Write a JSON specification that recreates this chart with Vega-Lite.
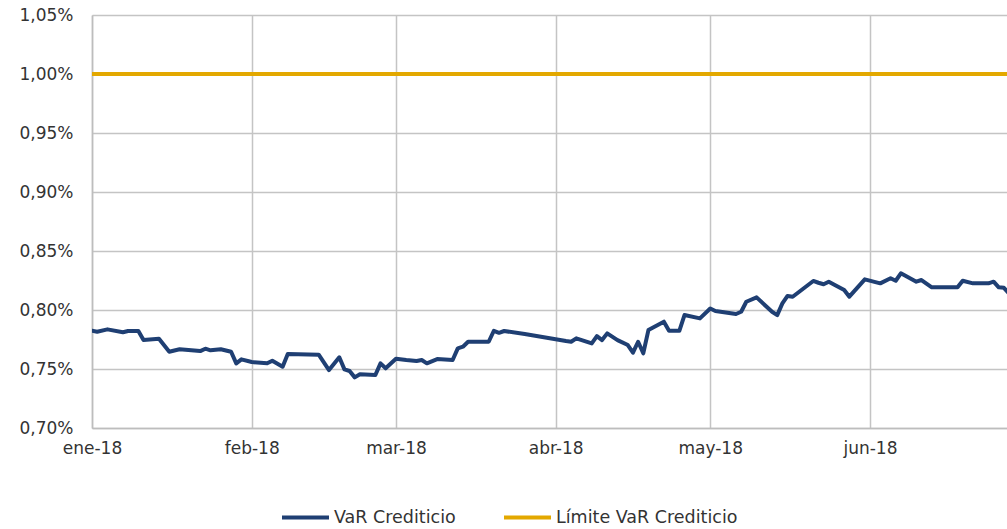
{
  "$schema": "https://vega.github.io/schema/vega-lite/v6.json",
  "width": 915,
  "height": 413,
  "autosize": {"type": "none"},
  "padding": {"left": 92, "top": 15, "right": 0, "bottom": 101},
  "background": "white",
  "config": {
    "font": "DejaVu Sans",
    "view": {"stroke": null},
    "axis": {"labelFont": "DejaVu Sans", "labelColor": "#333333", "labelFontSize": 17, "gridColor": "#c4c4c4", "gridWidth": 1.5, "domainColor": "#bdbdbd", "domainWidth": 1.5, "ticks": false, "title": null}
  },
  "data": {
    "values": [
      {"date": "2018-01-01", "value": 0.7824, "series": "VaR Crediticio"},
      {"date": "2018-01-02", "value": 0.7816, "series": "VaR Crediticio"},
      {"date": "2018-01-04", "value": 0.7836, "series": "VaR Crediticio"},
      {"date": "2018-01-07", "value": 0.7811, "series": "VaR Crediticio"},
      {"date": "2018-01-08", "value": 0.7822, "series": "VaR Crediticio"},
      {"date": "2018-01-10", "value": 0.7822, "series": "VaR Crediticio"},
      {"date": "2018-01-11", "value": 0.7746, "series": "VaR Crediticio"},
      {"date": "2018-01-14", "value": 0.7757, "series": "VaR Crediticio"},
      {"date": "2018-01-16", "value": 0.7646, "series": "VaR Crediticio"},
      {"date": "2018-01-18", "value": 0.7667, "series": "VaR Crediticio"},
      {"date": "2018-01-22", "value": 0.7652, "series": "VaR Crediticio"},
      {"date": "2018-01-23", "value": 0.7672, "series": "VaR Crediticio"},
      {"date": "2018-01-24", "value": 0.7658, "series": "VaR Crediticio"},
      {"date": "2018-01-26", "value": 0.7667, "series": "VaR Crediticio"},
      {"date": "2018-01-28", "value": 0.7646, "series": "VaR Crediticio"},
      {"date": "2018-01-29", "value": 0.7548, "series": "VaR Crediticio"},
      {"date": "2018-01-30", "value": 0.7582, "series": "VaR Crediticio"},
      {"date": "2018-02-01", "value": 0.7559, "series": "VaR Crediticio"},
      {"date": "2018-02-04", "value": 0.7548, "series": "VaR Crediticio"},
      {"date": "2018-02-05", "value": 0.7570, "series": "VaR Crediticio"},
      {"date": "2018-02-07", "value": 0.7519, "series": "VaR Crediticio"},
      {"date": "2018-02-08", "value": 0.7627, "series": "VaR Crediticio"},
      {"date": "2018-02-14", "value": 0.7621, "series": "VaR Crediticio"},
      {"date": "2018-02-16", "value": 0.7491, "series": "VaR Crediticio"},
      {"date": "2018-02-18", "value": 0.7599, "series": "VaR Crediticio"},
      {"date": "2018-02-19", "value": 0.7497, "series": "VaR Crediticio"},
      {"date": "2018-02-20", "value": 0.7483, "series": "VaR Crediticio"},
      {"date": "2018-02-21", "value": 0.7429, "series": "VaR Crediticio"},
      {"date": "2018-02-22", "value": 0.7455, "series": "VaR Crediticio"},
      {"date": "2018-02-25", "value": 0.7449, "series": "VaR Crediticio"},
      {"date": "2018-02-26", "value": 0.7548, "series": "VaR Crediticio"},
      {"date": "2018-02-27", "value": 0.7506, "series": "VaR Crediticio"},
      {"date": "2018-03-01", "value": 0.7587, "series": "VaR Crediticio"},
      {"date": "2018-03-03", "value": 0.7576, "series": "VaR Crediticio"},
      {"date": "2018-03-05", "value": 0.7568, "series": "VaR Crediticio"},
      {"date": "2018-03-06", "value": 0.7576, "series": "VaR Crediticio"},
      {"date": "2018-03-07", "value": 0.7548, "series": "VaR Crediticio"},
      {"date": "2018-03-09", "value": 0.7584, "series": "VaR Crediticio"},
      {"date": "2018-03-12", "value": 0.7576, "series": "VaR Crediticio"},
      {"date": "2018-03-13", "value": 0.7675, "series": "VaR Crediticio"},
      {"date": "2018-03-14", "value": 0.7689, "series": "VaR Crediticio"},
      {"date": "2018-03-15", "value": 0.7731, "series": "VaR Crediticio"},
      {"date": "2018-03-19", "value": 0.7731, "series": "VaR Crediticio"},
      {"date": "2018-03-20", "value": 0.7824, "series": "VaR Crediticio"},
      {"date": "2018-03-21", "value": 0.7807, "series": "VaR Crediticio"},
      {"date": "2018-03-22", "value": 0.7822, "series": "VaR Crediticio"},
      {"date": "2018-03-26", "value": 0.7796, "series": "VaR Crediticio"},
      {"date": "2018-04-03", "value": 0.7737, "series": "VaR Crediticio"},
      {"date": "2018-04-04", "value": 0.7731, "series": "VaR Crediticio"},
      {"date": "2018-04-05", "value": 0.7760, "series": "VaR Crediticio"},
      {"date": "2018-04-08", "value": 0.7717, "series": "VaR Crediticio"},
      {"date": "2018-04-09", "value": 0.7779, "series": "VaR Crediticio"},
      {"date": "2018-04-10", "value": 0.7745, "series": "VaR Crediticio"},
      {"date": "2018-04-11", "value": 0.7802, "series": "VaR Crediticio"},
      {"date": "2018-04-13", "value": 0.7745, "series": "VaR Crediticio"},
      {"date": "2018-04-15", "value": 0.7703, "series": "VaR Crediticio"},
      {"date": "2018-04-16", "value": 0.7638, "series": "VaR Crediticio"},
      {"date": "2018-04-17", "value": 0.7731, "series": "VaR Crediticio"},
      {"date": "2018-04-18", "value": 0.7633, "series": "VaR Crediticio"},
      {"date": "2018-04-19", "value": 0.7830, "series": "VaR Crediticio"},
      {"date": "2018-04-22", "value": 0.7901, "series": "VaR Crediticio"},
      {"date": "2018-04-23", "value": 0.7824, "series": "VaR Crediticio"},
      {"date": "2018-04-25", "value": 0.7824, "series": "VaR Crediticio"},
      {"date": "2018-04-26", "value": 0.7957, "series": "VaR Crediticio"},
      {"date": "2018-04-29", "value": 0.7929, "series": "VaR Crediticio"},
      {"date": "2018-05-01", "value": 0.8013, "series": "VaR Crediticio"},
      {"date": "2018-05-02", "value": 0.7991, "series": "VaR Crediticio"},
      {"date": "2018-05-06", "value": 0.7966, "series": "VaR Crediticio"},
      {"date": "2018-05-07", "value": 0.7985, "series": "VaR Crediticio"},
      {"date": "2018-05-08", "value": 0.8070, "series": "VaR Crediticio"},
      {"date": "2018-05-10", "value": 0.8107, "series": "VaR Crediticio"},
      {"date": "2018-05-13", "value": 0.7985, "series": "VaR Crediticio"},
      {"date": "2018-05-14", "value": 0.7957, "series": "VaR Crediticio"},
      {"date": "2018-05-15", "value": 0.8056, "series": "VaR Crediticio"},
      {"date": "2018-05-16", "value": 0.8119, "series": "VaR Crediticio"},
      {"date": "2018-05-17", "value": 0.8112, "series": "VaR Crediticio"},
      {"date": "2018-05-21", "value": 0.8246, "series": "VaR Crediticio"},
      {"date": "2018-05-22", "value": 0.8231, "series": "VaR Crediticio"},
      {"date": "2018-05-23", "value": 0.8218, "series": "VaR Crediticio"},
      {"date": "2018-05-24", "value": 0.8240, "series": "VaR Crediticio"},
      {"date": "2018-05-27", "value": 0.8169, "series": "VaR Crediticio"},
      {"date": "2018-05-28", "value": 0.8113, "series": "VaR Crediticio"},
      {"date": "2018-05-31", "value": 0.8260, "series": "VaR Crediticio"},
      {"date": "2018-06-03", "value": 0.8226, "series": "VaR Crediticio"},
      {"date": "2018-06-05", "value": 0.8269, "series": "VaR Crediticio"},
      {"date": "2018-06-06", "value": 0.8248, "series": "VaR Crediticio"},
      {"date": "2018-06-07", "value": 0.8311, "series": "VaR Crediticio"},
      {"date": "2018-06-10", "value": 0.8240, "series": "VaR Crediticio"},
      {"date": "2018-06-11", "value": 0.8254, "series": "VaR Crediticio"},
      {"date": "2018-06-13", "value": 0.8192, "series": "VaR Crediticio"},
      {"date": "2018-06-18", "value": 0.8192, "series": "VaR Crediticio"},
      {"date": "2018-06-19", "value": 0.8248, "series": "VaR Crediticio"},
      {"date": "2018-06-21", "value": 0.8226, "series": "VaR Crediticio"},
      {"date": "2018-06-24", "value": 0.8226, "series": "VaR Crediticio"},
      {"date": "2018-06-25", "value": 0.8240, "series": "VaR Crediticio"},
      {"date": "2018-06-26", "value": 0.8192, "series": "VaR Crediticio"},
      {"date": "2018-06-27", "value": 0.8188, "series": "VaR Crediticio"},
      {"date": "2018-06-28", "value": 0.8140, "series": "VaR Crediticio"},
      {"date": "2018-01-01", "value": 1.00, "series": "Límite VaR Crediticio"},
      {"date": "2018-06-28", "value": 1.00, "series": "Límite VaR Crediticio"}
    ]
  },
  "mark": {"type": "line", "clip": true, "strokeWidth": 4, "strokeJoin": "round", "strokeCap": "round"},
  "encoding": {
    "x": {
      "field": "date",
      "type": "temporal",
      "scale": {"type": "utc", "domain": [1514764800000, 1530109440000], "nice": false},
      "axis": {
        "values": [1514764800000, 1517443200000, 1519862400000, 1522540800000, 1525132800000, 1527811200000],
        "labelExpr": "['ene','feb','mar','abr','may','jun','jul'][utcmonth(datum.value)] + '-18'",
        "labelPadding": 12,
        "labelAlign": "center",
        "grid": true
      }
    },
    "y": {
      "field": "value",
      "type": "quantitative",
      "scale": {"domain": [0.70, 1.05], "nice": false, "zero": false},
      "axis": {
        "values": [0.70, 0.75, 0.80, 0.85, 0.90, 0.95, 1.00, 1.05],
        "labelExpr": "replace(format(datum.value, '.2f'), '.', ',') + '%'",
        "labelPadding": 19,
        "grid": true
      }
    },
    "color": {
      "field": "series",
      "type": "nominal",
      "sort": ["VaR Crediticio", "Límite VaR Crediticio"],
      "scale": {"domain": ["VaR Crediticio", "Límite VaR Crediticio"], "range": ["#1f3f73", "#e3a800"]},
      "legend": {
        "title": null,
        "orient": "none",
        "direction": "horizontal",
        "legendX": 188,
        "legendY": 477,
        "symbolType": "stroke",
        "symbolSize": 2209,
        "symbolStrokeWidth": 4,
        "labelFontSize": 17.5,
        "labelFont": "DejaVu Sans",
        "labelColor": "#333333",
        "labelOffset": 3,
        "labelLimit": 400,
        "columnPadding": 40
      }
    }
  }
}
